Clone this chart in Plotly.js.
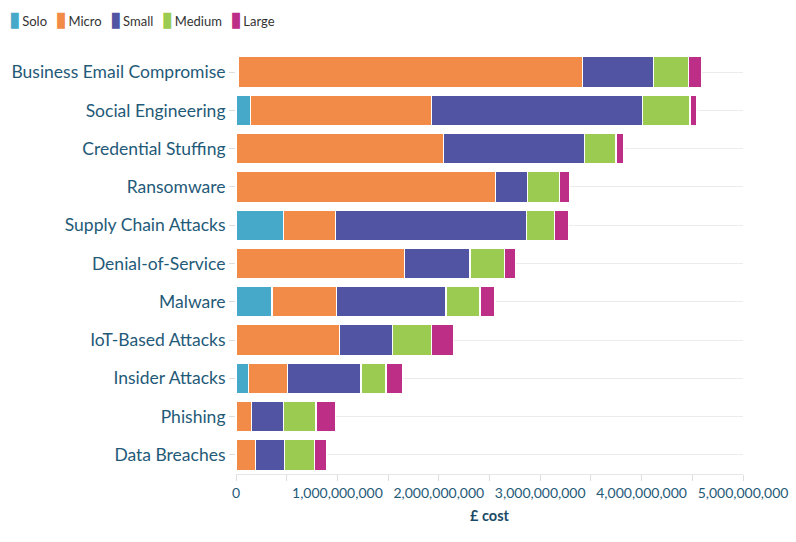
<!DOCTYPE html>
<html>
<head>
<meta charset="utf-8">
<script src="https://cdn.plot.ly/plotly-3.0.1.min.js"></script>
<style>html,body{margin:0;padding:0;background:#fff;}#chart{width:796px;height:542px;}</style>
</head>
<body>
<div id="chart"></div>
<script>
const categories = ["Business Email Compromise","Social Engineering","Credential Stuffing","Ransomware","Supply Chain Attacks","Denial-of-Service","Malware","IoT-Based Attacks","Insider Attacks","Phishing","Data Breaches"];
const seriesNames = ["Solo","Micro","Small","Medium","Large"];
const solo   = [0.02e9, 0.14e9, 0, 0, 0.47e9, 0, 0.355e9, 0, 0.125e9, 0, 0];
const micro  = [3.40e9, 1.79e9, 2.045e9, 2.56e9, 0.513e9, 1.66e9, 0.638e9, 1.022e9, 0.381e9, 0.151e9, 0.19e9];
const small  = [0.697e9, 2.078e9, 1.394e9, 0.312e9, 1.884e9, 0.648e9, 1.078e9, 0.52e9, 0.727e9, 0.319e9, 0.29e9];
const medium = [0.348e9, 0.469e9, 0.309e9, 0.322e9, 0.272e9, 0.342e9, 0.335e9, 0.384e9, 0.246e9, 0.319e9, 0.292e9];
const large  = [0.129e9, 0.069e9, 0.079e9, 0.096e9, 0.138e9, 0.105e9, 0.148e9, 0.217e9, 0.161e9, 0.19e9, 0.122e9];
const colors = ["#47a9c9","#f38b48","#5153a3","#9bcb50","#bd2f86"];
const values = [solo, micro, small, medium, large];

const traces = seriesNames.map((name, i) => ({
  type: 'bar',
  orientation: 'h',
  name: name,
  y: categories,
  x: values[i],
  marker: {color: colors[i], line: {color: '#ffffff', width: 1.2}},
  hovertemplate: '%{y}: £%{x:,}<extra>' + name + '</extra>'
}));

// compact legend drawn as a single text line built from the series names/colours
const legendText = seriesNames.map((n, i) =>
  '<span style="color:' + colors[i] + ';font-size:21px">▮</span><span style="font-size:13px">&#8201;' + n + '</span>'
).join('&nbsp;&nbsp;&#8201;');

const textColor = '#1f5a78';
const layout = {
  width: 796, height: 542,
  margin: {l: 236, r: 53, t: 53, b: 68},
  barmode: 'stack',
  bargap: 0.2,
  paper_bgcolor: '#fff', plot_bgcolor: '#fff',
  font: {family: 'Lato, "Noto Sans", sans-serif', color: textColor},
  showlegend: false,
  annotations: [{
    xref: 'paper', yref: 'paper',
    x: -229 / 507, xanchor: 'left',
    y: 1 + 35 / 421, yanchor: 'middle',
    text: legendText, showarrow: false, align: 'left',
    font: {size: 13, color: '#333333', family: 'Lato, "DejaVu Sans", sans-serif'}
  }],
  xaxis: {
    range: [0, 5e9], tickformat: ',d', dtick: 1e9, tick0: 0,
    showgrid: false, zeroline: false,
    showline: true, linecolor: '#e6e6e6', linewidth: 1,
    ticks: 'outside', ticklen: 6, tickcolor: '#dddddd',
    minor: {dtick: 0.5e9, ticks: 'outside', ticklen: 6, tickcolor: '#dddddd', showgrid: false},
    tickfont: {size: 14, color: textColor},
    title: {text: '<b>£ cost</b>', font: {size: 14.5, color: '#1a4a66'}, standoff: 11}
  },
  yaxis: {
    autorange: 'reversed', type: 'category',
    showgrid: true, gridcolor: '#ececec', gridwidth: 1,
    ticks: 'outside', ticklen: 6, tickcolor: '#dddddd',
    showline: false, zeroline: false,
    tickfont: {size: 17.5, color: textColor}
  }
};

Plotly.newPlot('chart', traces, layout, {displayModeBar: false, responsive: false});
</script>
</body>
</html>
